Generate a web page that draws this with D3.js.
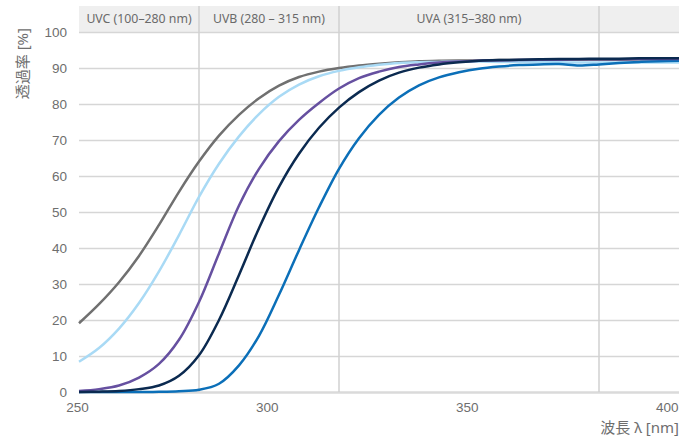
<!DOCTYPE html>
<html>
<head>
<meta charset="utf-8">
<script src="https://cdn.jsdelivr.net/npm/d3@7"></script>
<style>
  body { margin: 0; background: #fff; }
  svg { display: block; font-family: "Noto Sans", "Noto Sans CJK JP", sans-serif; }
</style>
</head>
<body>
<svg id="chart" width="691" height="436"></svg>
<script>
// wavelength [nm]
const wavelengths = [250, 255, 260, 265, 270, 275, 280, 285, 290, 295, 300, 305, 310, 315, 320,
  325, 330, 335, 340, 345, 350, 355, 360, 365, 370, 375, 380, 385, 390, 395, 400]

// transmittance [%] per sample
const grayValues = [19.1, 24.4, 30.5, 37.8, 46.4, 55.6, 64, 71.2, 77, 81.6, 85.1, 87.5, 89, 90, 90.7,
  91.2, 91.6, 91.9, 92, 92.1, 92.1, 92.2, 92.2, 92.2, 92.3, 92.3, 92.3, 92.3, 92.4, 92.4, 92.4]
const lightBlueValues = [8.4, 12.2, 17.6, 24.7, 33.5, 43.6, 54.2, 63.4, 71, 77.2, 82, 85.4, 87.7, 89.2, 90.2,
  90.9, 91.4, 91.6, 91.7, 91.8, 91.8, 91.7, 91.7, 91.6, 91.6, 91.5, 91.5, 91.5, 91.5, 91.5, 91.5]
const blueValues = [0, 0, 0, 0, 0.05, 0.2, 0.6, 2.3, 7.4, 15.6, 27, 39.4, 51.3, 62, 70.5,
  77, 81.8, 85.2, 87.4, 88.8, 89.8, 90.4, 90.8, 91, 91.1, 90.7, 91, 91.4, 91.7, 91.9, 92]
const purpleValues = [0.3, 0.8, 1.8, 4, 7.8, 14.5, 25, 38.5, 51.8, 62, 69.7, 75.6, 80.3, 84.3, 87.2,
  89, 90.3, 91, 91.5, 91.8, 92, 92.1, 92.2, 92.3, 92.3, 92.4, 92.4, 92.4, 92.5, 92.5, 92.5]
const navyValues = [0, 0.1, 0.3, 0.8, 1.8, 4.5, 10.2, 20, 32.5, 45.5, 57, 66.2, 73.4, 79, 83.3,
  86.5, 88.7, 90.1, 91, 91.6, 92, 92.2, 92.3, 92.4, 92.5, 92.5, 92.6, 92.6, 92.7, 92.7, 92.7]

const seriesColors = ['#707070', '#a9daf5', '#0b6fb8', '#6650a0', '#0b2a50']
const seriesValues = [grayValues, lightBlueValues, blueValues, purpleValues, navyValues]

// UV bands along the top
const bandLabels = ['UVC (100–280 nm)', 'UVB (280 – 315 nm)', 'UVA (315–380 nm)', '']
const bandEdges = [250, 280, 315, 380, 400]

const xTicks = [250, 300, 350, 400]
const yTicks = [0, 10, 20, 30, 40, 50, 60, 70, 80, 90, 100]

const plotLeft = 79, plotRight = 679, plotTop = 32, plotBottom = 392

const x = d3.scaleLinear().domain([250, 400]).range([plotLeft, plotRight])
const y = d3.scaleLinear().domain([0, 100]).range([plotBottom, plotTop])

const svg = d3.select('#chart')

// header strip
svg.append('rect')
    .attr('x', plotLeft)
    .attr('y', 6)
    .attr('width', plotRight - plotLeft)
    .attr('height', plotTop - 6)
    .attr('fill', '#efefef')

// horizontal grid + y labels
const yAxis = svg.append('g')
    .attr('transform', `translate(${plotLeft},0)`)
    .call(d3.axisLeft(y).tickValues(yTicks).tickSize(-(plotRight - plotLeft)).tickPadding(12))
yAxis.select('.domain').remove()
yAxis.selectAll('line')
    .attr('stroke', d => d === 0 ? '#dadada' : '#d6d6d6')
    .attr('stroke-width', d => d === 0 ? 2.6 : 1.5)
yAxis.selectAll('text')
    .attr('fill', '#6e6e6e')
    .style('font-size', '13.5px')

// band separators
svg.selectAll('.band-line')
    .data(bandEdges.slice(1, -1))
    .enter()
    .append('line')
    .attr('x1', d => x(d))
    .attr('x2', d => x(d))
    .attr('y1', 6)
    .attr('y2', plotBottom)
    .attr('stroke', '#d0d0d0')
    .attr('stroke-width', 1.5)

svg.selectAll('.band-label')
    .data(bandLabels)
    .enter()
    .append('text')
    .attr('x', (d, i) => (x(bandEdges[i]) + x(bandEdges[i + 1])) / 2)
    .attr('y', 23)
    .attr('text-anchor', 'middle')
    .attr('fill', '#6a6a6a')
    .style('font-size', '12.3px')
    .text(d => d)

// x labels
const xAxis = svg.append('g')
    .attr('transform', `translate(0,${plotBottom})`)
    .call(d3.axisBottom(x).tickValues(xTicks).tickSize(0).tickPadding(10.5))
xAxis.select('.domain').remove()
xAxis.selectAll('text')
    .attr('fill', '#6e6e6e')
    .style('font-size', '13.5px')
    .attr('text-anchor', d => d === 250 ? 'middle' : 'end')
    .attr('dx', d => d === 250 ? -2 : -1)

// curves
const line = d3.line()
    .x(d => x(d[0]))
    .y(d => y(d[1]))
    .curve(d3.curveCatmullRom.alpha(0.5))

seriesValues.map((vals, i) => {
    svg.append('path')
        .datum(wavelengths.map((w, j) => [w, vals[j]]))
        .attr('d', line)
        .attr('fill', 'none')
        .attr('stroke', seriesColors[i])
        .attr('stroke-width', 2.5)
})

// axis titles
svg.append('text')
    .attr('transform', 'translate(28,28) rotate(-90)')
    .attr('text-anchor', 'end')
    .attr('fill', '#6e6e6e')
    .style('font-size', '15px')
    .text('透過率 [%]')

svg.append('text')
    .attr('x', plotRight)
    .attr('y', 433)
    .attr('text-anchor', 'end')
    .attr('fill', '#6e6e6e')
    .style('font-size', '15px')
    .text('波長 λ [nm]')
</script>
</body>
</html>
